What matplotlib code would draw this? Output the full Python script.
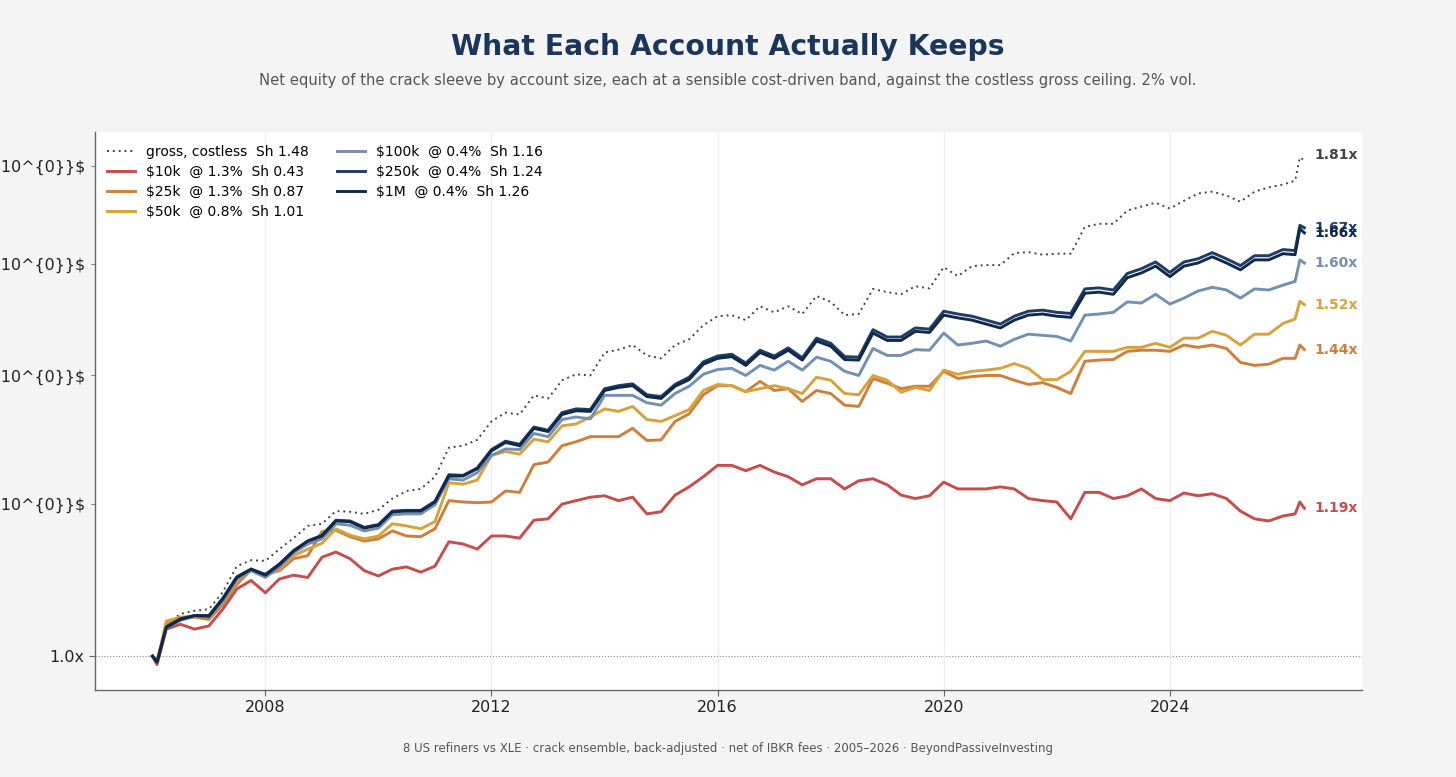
import matplotlib
matplotlib.use("Agg")
import matplotlib.pyplot as plt
import matplotlib.dates as mdates
from matplotlib.ticker import FixedLocator, FixedFormatter
import pandas as pd

# ---------------- data ----------------
dates = (["2006-01-02", "2006-01-31"]
         + [d.strftime("%Y-%m-%d") for d in pd.date_range("2006-04-01", "2026-01-01", freq="QS")]
         + ["2026-03-20", "2026-04-20", "2026-05-19"])

gross = [1.000, 0.990, 1.039, 1.052, 1.056, 1.058, 1.080, 1.114, 1.122, 1.121,
         1.137, 1.152, 1.169, 1.172, 1.190, 1.189, 1.186, 1.192, 1.208, 1.219,
         1.222, 1.240, 1.284, 1.287, 1.296, 1.325, 1.339, 1.336, 1.367, 1.362,
         1.392, 1.402, 1.400, 1.439, 1.444, 1.452, 1.434, 1.429, 1.452, 1.462,
         1.487, 1.503, 1.505, 1.496, 1.521, 1.510, 1.521, 1.507, 1.540, 1.529,
         1.505, 1.507, 1.553, 1.547, 1.543, 1.558, 1.554, 1.594, 1.577, 1.596,
         1.598, 1.598, 1.621, 1.623, 1.618, 1.620, 1.620, 1.673, 1.679, 1.679,
         1.706, 1.714, 1.722, 1.710, 1.726, 1.741, 1.745, 1.737, 1.724, 1.745,
         1.754, 1.760, 1.768, 1.818, 1.812]

acct_10k = [1.000, 0.990, 1.033, 1.039, 1.033, 1.037, 1.058, 1.084, 1.095, 1.079,
            1.097, 1.102, 1.099, 1.126, 1.133, 1.124, 1.108, 1.101, 1.110, 1.113,
            1.106, 1.114, 1.147, 1.144, 1.137, 1.155, 1.155, 1.152, 1.177, 1.179,
            1.200, 1.205, 1.210, 1.212, 1.205, 1.210, 1.186, 1.189, 1.213, 1.225,
            1.240, 1.257, 1.257, 1.249, 1.257, 1.247, 1.240, 1.228, 1.237, 1.237,
            1.222, 1.234, 1.237, 1.228, 1.213, 1.208, 1.212, 1.232, 1.222, 1.222,
            1.222, 1.225, 1.222, 1.208, 1.205, 1.203, 1.179, 1.217, 1.217, 1.208,
            1.212, 1.222, 1.208, 1.205, 1.216, 1.212, 1.215, 1.208, 1.190, 1.179,
            1.176, 1.183, 1.186, 1.203, 1.194]

acct_25k = [1.000, 0.993, 1.039, 1.047, 1.048, 1.045, 1.064, 1.090, 1.109, 1.103,
            1.108, 1.124, 1.128, 1.161, 1.163, 1.154, 1.148, 1.151, 1.162, 1.155,
            1.154, 1.165, 1.205, 1.203, 1.202, 1.203, 1.219, 1.217, 1.258, 1.262,
            1.287, 1.293, 1.301, 1.301, 1.301, 1.314, 1.295, 1.296, 1.325, 1.337,
            1.368, 1.383, 1.383, 1.373, 1.390, 1.375, 1.378, 1.357, 1.375, 1.370,
            1.351, 1.349, 1.395, 1.387, 1.378, 1.382, 1.382, 1.407, 1.395, 1.398,
            1.400, 1.400, 1.392, 1.385, 1.388, 1.380, 1.370, 1.424, 1.426, 1.427,
            1.441, 1.443, 1.443, 1.441, 1.452, 1.448, 1.452, 1.446, 1.422, 1.417,
            1.419, 1.429, 1.429, 1.452, 1.444]

acct_50k = [1.000, 0.993, 1.043, 1.048, 1.049, 1.048, 1.067, 1.094, 1.110, 1.101,
            1.110, 1.128, 1.137, 1.145, 1.165, 1.156, 1.151, 1.155, 1.172, 1.169,
            1.165, 1.175, 1.231, 1.229, 1.235, 1.272, 1.278, 1.274, 1.297, 1.293,
            1.318, 1.321, 1.332, 1.345, 1.341, 1.349, 1.328, 1.325, 1.334, 1.344,
            1.375, 1.385, 1.383, 1.373, 1.378, 1.383, 1.378, 1.370, 1.397, 1.392,
            1.370, 1.368, 1.400, 1.392, 1.372, 1.380, 1.375, 1.409, 1.402, 1.407,
            1.409, 1.412, 1.420, 1.412, 1.393, 1.393, 1.407, 1.441, 1.441, 1.441,
            1.448, 1.448, 1.455, 1.448, 1.464, 1.464, 1.476, 1.469, 1.452, 1.471,
            1.471, 1.490, 1.498, 1.530, 1.524]

acct_100k = [1.000, 0.993, 1.034, 1.044, 1.049, 1.048, 1.068, 1.097, 1.108, 1.099,
             1.113, 1.132, 1.144, 1.151, 1.172, 1.170, 1.162, 1.166, 1.185, 1.186,
             1.186, 1.199, 1.237, 1.235, 1.246, 1.272, 1.282, 1.281, 1.306, 1.301,
             1.328, 1.332, 1.329, 1.367, 1.367, 1.367, 1.355, 1.351, 1.370, 1.382,
             1.402, 1.410, 1.412, 1.400, 1.417, 1.409, 1.424, 1.409, 1.431, 1.424,
             1.407, 1.400, 1.446, 1.434, 1.434, 1.444, 1.443, 1.473, 1.452, 1.455,
             1.459, 1.450, 1.462, 1.471, 1.469, 1.467, 1.459, 1.505, 1.507, 1.510,
             1.529, 1.527, 1.543, 1.525, 1.536, 1.549, 1.556, 1.551, 1.536, 1.553,
             1.551, 1.560, 1.567, 1.608, 1.602]

acct_250k = [1.000, 0.993, 1.036, 1.046, 1.050, 1.050, 1.072, 1.100, 1.110, 1.103,
             1.117, 1.135, 1.148, 1.156, 1.177, 1.176, 1.167, 1.171, 1.190, 1.191,
             1.191, 1.204, 1.243, 1.242, 1.253, 1.281, 1.294, 1.289, 1.316, 1.311,
             1.339, 1.345, 1.344, 1.378, 1.383, 1.386, 1.368, 1.365, 1.385, 1.397,
             1.423, 1.433, 1.436, 1.421, 1.443, 1.433, 1.447, 1.430, 1.464, 1.455,
             1.432, 1.431, 1.479, 1.466, 1.466, 1.482, 1.480, 1.512, 1.507, 1.503,
             1.496, 1.489, 1.503, 1.512, 1.514, 1.510, 1.508, 1.553, 1.555, 1.551,
             1.582, 1.591, 1.604, 1.584, 1.604, 1.610, 1.622, 1.610, 1.597, 1.616,
             1.616, 1.628, 1.626, 1.676, 1.671]

acct_1m = [1.000, 0.993, 1.035, 1.045, 1.050, 1.049, 1.071, 1.099, 1.110, 1.102,
           1.116, 1.134, 1.148, 1.155, 1.176, 1.175, 1.166, 1.170, 1.189, 1.190,
           1.190, 1.203, 1.241, 1.241, 1.252, 1.279, 1.292, 1.287, 1.314, 1.309,
           1.336, 1.342, 1.341, 1.375, 1.380, 1.383, 1.365, 1.362, 1.382, 1.393,
           1.419, 1.429, 1.432, 1.417, 1.439, 1.429, 1.443, 1.426, 1.459, 1.450,
           1.427, 1.426, 1.473, 1.460, 1.460, 1.476, 1.474, 1.505, 1.500, 1.496,
           1.489, 1.482, 1.496, 1.505, 1.507, 1.503, 1.501, 1.545, 1.547, 1.543,
           1.574, 1.583, 1.596, 1.576, 1.596, 1.602, 1.614, 1.602, 1.589, 1.608,
           1.608, 1.620, 1.618, 1.669, 1.661]

series_labels = ["gross, costless  Sh 1.48",
                 "\\$10k  @ 1.3%  Sh 0.43",
                 "\\$25k  @ 1.3%  Sh 0.87",
                 "\\$50k  @ 0.8%  Sh 1.01",
                 "\\$100k  @ 0.4%  Sh 1.16",
                 "\\$250k  @ 0.4%  Sh 1.24",
                 "\\$1M  @ 0.4%  Sh 1.26"]
series_values = [gross, acct_10k, acct_25k, acct_50k, acct_100k, acct_250k, acct_1m]
series_colors = ["#444444", "#c94c4c", "#cf7f3a", "#d6a23c", "#7390b2", "#1f3c66", "#10294b"]

minor_ticks = [1.2, 1.4, 1.6, 1.8]
minor_tick_labels = ["\\$\\mathdefault{1.2\\times10^{0}}\\$",
                     "\\$\\mathdefault{1.4\\times10^{0}}\\$",
                     "\\$\\mathdefault{1.6\\times10^{0}}\\$",
                     "\\$\\mathdefault{1.8\\times10^{0}}\\$"]

title = "What Each Account Actually Keeps"
subtitle = ("Net equity of the crack sleeve by account size, each at a sensible cost-driven band, "
            "against the costless gross ceiling. 2% vol.")
footer = "8 US refiners vs XLE · crack ensemble, back-adjusted · net of IBKR fees · 2005–2026 · BeyondPassiveInvesting"

# ---------------- figure ----------------
x = pd.to_datetime(dates)

fig = plt.figure(figsize=(14.56, 7.77), dpi=100, facecolor="#f4f4f4")
ax = fig.add_axes([0.0652, 0.112, 0.8702, 0.718])
ax.set_facecolor("white")

for i, (lab, vals, col) in enumerate(zip(series_labels, series_values, series_colors)):
    if i == 0:
        ax.plot(x, vals, color=col, lw=1.4, ls=(0, (1, 2)), label=lab, zorder=2)
    else:
        ax.plot(x, vals, color=col, lw=2.1, label=lab, zorder=3 + i)

ax.set_yscale("log")
ax.axhline(1.0, color="#888888", lw=0.8, ls=":", zorder=1)

# end labels
for i, (vals, col) in enumerate(zip(series_values, series_colors)):
    dy = 4 if i == 0 else 0
    ax.annotate(f"{vals[-1]:.2f}x", xy=(x[-1], vals[-1]), xytext=(7, dy),
                textcoords="offset points", va="center", ha="left",
                color=col, fontsize=10, fontweight="bold", zorder=20)

ax.yaxis.set_major_locator(FixedLocator([1.0]))
ax.yaxis.set_major_formatter(FixedFormatter(["1.0x"]))
ax.yaxis.set_minor_locator(FixedLocator(minor_ticks))
ax.yaxis.set_minor_formatter(FixedFormatter(minor_tick_labels))

ax.xaxis.set_major_locator(mdates.YearLocator(4))
ax.xaxis.set_major_formatter(mdates.DateFormatter("%Y"))

ax.tick_params(axis="both", which="both", labelsize=11.5, colors="#222222")
ax.tick_params(axis="both", which="major", length=4, color="#666666")
ax.tick_params(axis="y", which="minor", length=3, color="#666666")

ax.grid(axis="x", which="major", color="#eeeeee", lw=0.9)
ax.grid(axis="y", which="both", visible=False)

for s in ["top", "right"]:
    ax.spines[s].set_visible(False)
for s in ["left", "bottom"]:
    ax.spines[s].set_color("#666666")
    ax.spines[s].set_linewidth(1.0)

leg = ax.legend(loc="upper left", ncol=2, frameon=False, fontsize=10,
                handlelength=2.0, columnspacing=2.0, labelspacing=0.45)

fig.text(0.5, 0.939, title, ha="center", va="center", fontsize=20.3,
         fontweight="bold", color="#1b365d")
fig.text(0.5, 0.897, subtitle, ha="center", va="center", fontsize=10.6, color="#555555")
fig.text(0.5, 0.037, footer, ha="center", va="center", fontsize=8.5, color="#555555")

fig.savefig("out.png", dpi=100, facecolor=fig.get_facecolor())
